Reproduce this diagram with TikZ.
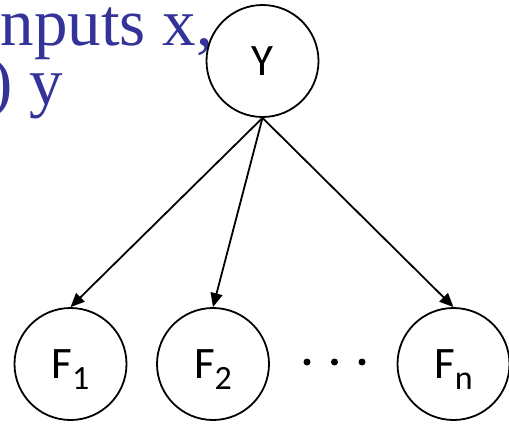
\documentclass[tikz,border=0pt]{standalone}
\usepackage{fontspec}
\newfontfamily\calib{Carlito}
\newfontfamily\serifb{Liberation Serif}
\usetikzlibrary{arrows.meta}
\definecolor{slideblue}{RGB}{51,51,153}
\newcommand\lowsub[1]{\raisebox{-11pt}[0pt][0pt]{\fontsize{34}{34}\selectfont #1}}
\begin{document}
\begin{tikzpicture}[x=1pt,y=-1pt,
  var/.style={circle,draw,line width=1.8pt,minimum size=112pt,inner sep=0pt,
    font=\calib\fontsize{45}{50}\selectfont},
  edge/.style={line width=1.8pt,-{Triangle[length=14pt,width=12pt]}},
  dotmark/.style={circle,fill,inner sep=0pt,minimum size=7pt},
  slidetext/.style={anchor=base east,inner sep=0pt,text=slideblue,
    font=\serifb\fontsize{67}{70}\selectfont}]
\useasboundingbox (0,0) rectangle (509,424);
\clip (0,0) rectangle (509,424);
\node[slidetext] (t1) at (213,45) {nputs x,};
\node[slidetext] (t2) at (63,104) {) y};
\node[var] (Y) at (262.5,61) {Y};
\node[var] (F1) at (70.5,364) {F\lowsub{1}};
\node[var] (F2) at (213,364) {F\lowsub{2}};
\node[var] (Fn) at (453.5,364) {F\lowsub{n}};
\node[dotmark] (d1) at (307,362) {};
\node[dotmark] (d2) at (334.5,362) {};
\node[dotmark] (d3) at (362,362) {};
\draw[edge] (Y.south) -- (F1.north);
\draw[edge] (Y.south) -- (F2.north);
\draw[edge] (Y.south) -- (Fn.north);
\end{tikzpicture}
\end{document}
